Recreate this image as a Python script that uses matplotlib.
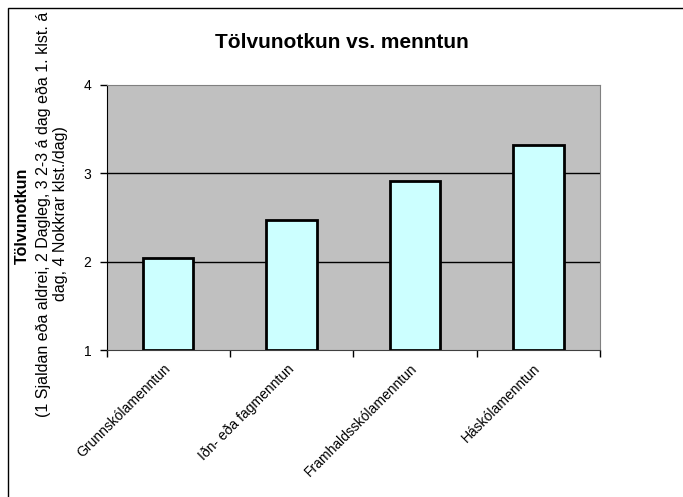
import matplotlib

matplotlib.use("Agg")
import matplotlib.pyplot as plt
from matplotlib.patches import Rectangle
from matplotlib.ticker import FixedLocator

plt.rcParams["font.family"] = ["Liberation Sans", "DejaVu Sans"]

categories = ["Grunnskólamenntun", "Iðn- eða fagmenntun",
              "Framhaldsskólamenntun", "Háskólamenntun"]
usage = [2.04, 2.47, 2.91, 3.32]
y_ticks = [1, 2, 3, 4]

title = "Tölvunotkun vs. menntun"
ylabel_main = "Tölvunotkun"
ylabel_lines = ["(1 Sjaldan eða aldrei, 2 Dagleg, 3 2-3 á dag eða 1. klst. á",
                "dag, 4 Nokkrar klst./dag)"]

W, H = 683, 497
fig = plt.figure(figsize=(W / 100, H / 100), dpi=100)
fig.patch.set_facecolor("white")

# chart frame (runs off the right and bottom edges)
frame = Rectangle((8 / W, -0.1), 1.2, 1.1 - 8 / H, transform=fig.transFigure,
                  fill=False, edgecolor="black", linewidth=1.0)
fig.add_artist(frame)

ax = fig.add_axes([106.5 / W, 1 - 350 / H, 493.5 / W, 265 / H])
ax.set_facecolor("#C0C0C0")

x = range(len(categories))
ax.bar(x, [v - 1 for v in usage], bottom=1, width=0.41, color="#CCFFFF",
       edgecolor="black", linewidth=2.0, zorder=3)

ax.set_xlim(-0.5, len(categories) - 0.5)
ax.set_ylim(1, 4)
ax.set_yticks(y_ticks)
ax.set_yticklabels([str(t) for t in y_ticks], fontsize=10)
ax.tick_params(axis="y", direction="out", length=5, width=1, pad=6)

ax.set_xticks(list(x))
ax.set_xticklabels(categories, rotation=45, ha="right", va="center",
                   rotation_mode="anchor", fontsize=10)
ax.tick_params(axis="x", which="major", length=0, pad=12)
ax.xaxis.set_minor_locator(FixedLocator([i - 0.5 for i in range(len(categories) + 1)]))
ax.tick_params(axis="x", which="minor", direction="out", length=5, width=1)

for yv in y_ticks[1:-1]:
    ax.axhline(yv, color="black", linewidth=1.0, zorder=1)

for side in ("top", "right"):
    ax.spines[side].set_color("#808080")
ax.spines["left"].set_color("black")
ax.spines["bottom"].set_color("#404040")

fig.text(342 / W, 1 - 42 / H, title, fontsize=15, fontweight="bold",
         ha="center", va="center")

# y-axis title: bold heading plus two lines of scale explanation
t = fig.text(22 / W, 1 - 216 / H, ylabel_main, fontsize=11.5, fontweight="bold",
             rotation=90, ha="center", va="center")
t.set_clip_path(frame)
for xp, line in zip((43.5, 60), ylabel_lines):
    t = fig.text(xp / W, 1 - 214 / H, line, fontsize=11.5,
                 rotation=90, ha="center", va="center")
    t.set_clip_path(frame)

fig.savefig("out.png", dpi=100)
